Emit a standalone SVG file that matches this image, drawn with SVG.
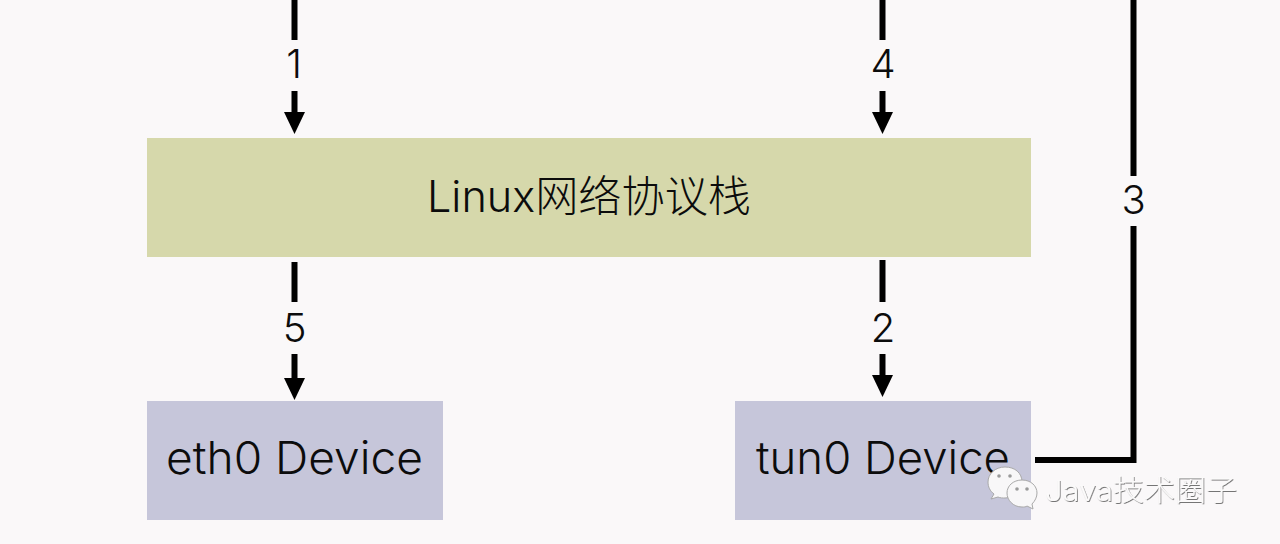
<svg xmlns="http://www.w3.org/2000/svg" width="1280" height="544" viewBox="0 0 1280 544">
<defs>
<marker id="a" markerUnits="userSpaceOnUse" markerWidth="22" markerHeight="22" refX="12" refY="10.500" orient="auto"><path d="M0 0L22 10.500L0 21Z" fill="#000"/></marker>
<filter id="s" x="-10%" y="-20%" width="120%" height="140%"><feDropShadow dx="0.800" dy="1" stdDeviation="0.500" flood-color="#555" flood-opacity=".8"/></filter>
</defs>
<style>
.n{font-family:"Inter","Noto Sans CJK SC",sans-serif;font-weight:300;fill:#0c0c0c;text-anchor:middle}
.l{font-size:40px;font-family:"Inter",sans-serif;font-weight:300;fill:#0c0c0c;text-anchor:middle}
.c{fill:none;stroke:#000;stroke-width:6}
.b{fill:#f8f7f8;stroke:#a9a9a9;stroke-width:1}
.e{fill:#9a9a9a}
</style>
<rect width="1280" height="544" fill="#faf8f9"/>
<g id="connectors">
<path class="c" d="M294.500 0V40"/><path class="c" d="M294.500 91V124" marker-end="url(#a)"/>
<path class="c" d="M882.500 0V40"/><path class="c" d="M882.500 91V124" marker-end="url(#a)"/>
<path class="c" d="M294.500 262V302"/><path class="c" d="M294.500 354V390" marker-end="url(#a)"/>
<path class="c" d="M882.500 260V302"/><path class="c" d="M882.500 354V387" marker-end="url(#a)"/>
<path class="c" d="M1035 460H1133.500V226"/><path class="c" d="M1133.500 176V0"/>
<text class="l" x="294" y="78">1</text><text class="l" x="883" y="78">4</text>
<text class="l" x="294.500" y="342">5</text><text class="l" x="883" y="342">2</text>
<text class="l" x="1133.500" y="214">3</text>
</g>
<g id="stack"><rect x="147" y="138" width="884" height="119" fill="#d6d8ab"/><text class="n" x="589" y="212" font-size="43" textLength="324" lengthAdjust="spacingAndGlyphs">Linux网络协议栈</text></g>
<g id="eth0"><rect x="147" y="401" width="296" height="119" fill="#c6c6da"/><text class="n" x="294.500" y="474" font-size="45" textLength="257" lengthAdjust="spacingAndGlyphs">eth0 Device</text></g>
<g id="tun0"><rect x="735" y="401" width="296" height="119" fill="#c6c6da"/><text class="n" x="883" y="474" font-size="45" textLength="254" lengthAdjust="spacingAndGlyphs">tun0 Device</text></g>
<g id="watermark">
<path class="b" d="M1005 467c-10 0-17 7-17 15 0 5 2 9 6 12l-3 5 7-2c2 1 5 1 7 1 10 0 17-7 17-16s-7-15-17-15z"/>
<circle class="e" cx="999" cy="476" r="1.800"/><circle class="e" cx="1010" cy="476" r="1.800"/>
<path class="b" d="M1022 480c-9 0-15 6-15 13s6 14 15 14c2 0 4 0 5 -1l6 3-1-5c3-3 5-7 5-11 0-7-6-13-15-13z"/>
<circle class="e" cx="1017" cy="489" r="1.800"/><circle class="e" cx="1027" cy="489" r="1.800"/>
<text x="1045" y="501" font-size="29" font-family="Inter,'Noto Sans CJK SC',sans-serif" font-weight="300" fill="#fbfafa" filter="url(#s)" textLength="192" lengthAdjust="spacingAndGlyphs">Java技术圈子</text>
</g>
</svg>
